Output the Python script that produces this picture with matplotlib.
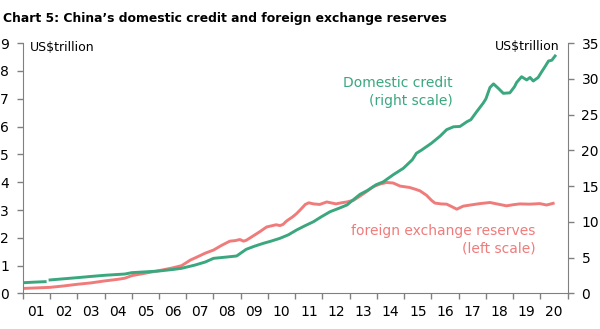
import numpy as np
import matplotlib
matplotlib.use("Agg")
import matplotlib.pyplot as plt
from matplotlib.ticker import FixedLocator, NullFormatter

# foreign exchange reserves, US$ trillion (left scale)
fx_years = [2001.0, 2001.5, 2002.0, 2002.5, 2003.0, 2003.5, 2004.0, 2004.5, 2004.75,
            2005.0, 2005.5, 2006.0, 2006.5, 2006.83, 2007.15, 2007.33, 2007.7, 2008.0,
            2008.3, 2008.6, 2008.8, 2008.97, 2009.1, 2009.2, 2009.46, 2009.7, 2009.95,
            2010.3, 2010.44, 2010.55, 2010.69, 2010.9, 2011.05, 2011.2, 2011.37, 2011.5,
            2011.67, 2011.9, 2012.16, 2012.35, 2012.5, 2012.7, 2012.9, 2013.14, 2013.38,
            2013.6, 2013.87, 2014.1, 2014.36, 2014.6, 2014.85, 2015.2, 2015.4, 2015.58,
            2015.82, 2016.0, 2016.13, 2016.35, 2016.56, 2016.75, 2016.93, 2017.17, 2017.5,
            2017.78, 2018.15, 2018.4, 2018.76, 2019.0, 2019.25, 2019.6, 2019.98, 2020.23,
            2020.47]
fx_values = [0.18, 0.20, 0.22, 0.27, 0.33, 0.38, 0.45, 0.51, 0.55,
             0.64, 0.73, 0.82, 0.92, 1.00, 1.20, 1.28, 1.45, 1.56,
             1.73, 1.88, 1.90, 1.94, 1.88, 1.91, 2.07, 2.22, 2.39,
             2.47, 2.44, 2.48, 2.61, 2.75, 2.87, 3.02, 3.20, 3.26,
             3.22, 3.20, 3.29, 3.25, 3.22, 3.26, 3.29, 3.35, 3.50,
             3.65, 3.84, 3.93, 3.99, 3.97, 3.86, 3.81, 3.75, 3.69,
             3.53, 3.35, 3.25, 3.22, 3.21, 3.12, 3.03, 3.14, 3.19,
             3.23, 3.27, 3.22, 3.15, 3.19, 3.22, 3.21, 3.23, 3.18,
             3.24]

# domestic credit, US$ trillion (right scale); nan = gap in the source line
dc_years = [2001.0, 2001.4, 2001.82, 2001.9, 2002.0, 2002.5, 2003.0, 2003.5, 2004.0,
            2004.5, 2004.75, 2005.0, 2005.5, 2006.0, 2006.5, 2006.83, 2007.33, 2007.7,
            2008.0, 2008.5, 2008.85, 2009.2, 2009.5, 2009.83, 2010.1, 2010.44, 2010.75,
            2011.05, 2011.35, 2011.67, 2011.95, 2012.28, 2012.6, 2012.9, 2013.1, 2013.38,
            2013.65, 2013.97, 2014.23, 2014.6, 2014.97, 2015.3, 2015.45, 2015.64, 2016.0,
            2016.32, 2016.56, 2016.81, 2017.05, 2017.3, 2017.45, 2017.66, 2017.9, 2018.0,
            2018.15, 2018.28, 2018.45, 2018.64, 2018.88, 2019.05, 2019.13, 2019.31, 2019.5,
            2019.62, 2019.74, 2019.92, 2020.05, 2020.17, 2020.3, 2020.42, 2020.54]
dc_values = [1.50, 1.58, 1.65, np.nan, 1.89, 2.05, 2.21, 2.38, 2.54,
             2.66, 2.72, 2.91, 3.02, 3.14, 3.35, 3.52, 3.98, 4.40,
             4.91, 5.10, 5.24, 6.17, 6.60, 7.01, 7.30, 7.71, 8.20,
             8.87, 9.45, 10.03, 10.70, 11.43, 11.90, 12.37, 13.00, 13.86,
             14.40, 15.20, 15.60, 16.60, 17.50, 18.70, 19.60, 20.05, 21.00,
             22.00, 22.90, 23.30, 23.35, 24.00, 24.30, 25.40, 26.60, 27.20,
             28.80, 29.30, 28.70, 27.98, 28.05, 28.90, 29.50, 30.30, 29.85,
             30.20, 29.70, 30.20, 31.00, 31.70, 32.50, 32.60, 33.20]

year_labels = ["01", "02", "03", "04", "05", "06", "07", "08", "09", "10",
               "11", "12", "13", "14", "15", "16", "17", "18", "19", "20"]

green = "#3aa77f"
red = "#f07b7b"
grey = "#808080"

fig = plt.figure(figsize=(6.0, 3.29), dpi=100)
ax = fig.add_axes([0.038, 0.108, 0.908, 0.761])
ax2 = ax.twinx()

ax.plot(fx_years, fx_values, color=red, lw=2.1, zorder=2)
ax2.plot(dc_years, dc_values, color=green, lw=2.1, zorder=3)

ax.set_xlim(2001, 2021)
ax.set_ylim(0, 9)
ax2.set_ylim(0, 35)
ax.set_yticks(range(0, 10))
ax2.set_yticks(range(0, 36, 5))

ax.xaxis.set_major_locator(FixedLocator(range(2001, 2022)))
ax.xaxis.set_major_formatter(NullFormatter())
ax.xaxis.set_minor_locator(FixedLocator([y + 0.5 for y in range(2001, 2021)]))
ax.set_xticklabels(year_labels, minor=True)
ax.tick_params(axis="x", which="minor", length=0, pad=8, labelsize=10)
ax.tick_params(axis="x", which="major", length=4, width=1, color=grey)
ax.tick_params(axis="y", length=4, width=1, color=grey, labelsize=10, pad=6)
ax2.tick_params(axis="y", length=4, width=1, color=grey, labelsize=10, pad=6)

for a in (ax, ax2):
    for side in ("left", "right", "bottom"):
        a.spines[side].set_color(grey)
    a.spines["top"].set_visible(False)
ax.spines["right"].set_visible(False)
ax2.spines["left"].set_visible(False)
ax2.spines["bottom"].set_visible(False)

fig.text(0.005, 0.945, "Chart 5: China\u2019s domestic credit and foreign exchange reserves",
         fontsize=8.9, fontweight="bold", va="center", ha="left")
fig.text(0.05, 0.855, "US$trillion", fontsize=9, va="center", ha="left")
fig.text(0.932, 0.86, "US$trillion", fontsize=9, va="center", ha="right")
fig.text(0.755, 0.72, "Domestic credit\n(right scale)", color=green, fontsize=10,
         va="center", ha="right", linespacing=1.3)
fig.text(0.892, 0.272, "foreign exchange reserves\n(left scale)", color=red, fontsize=10,
         va="center", ha="right", linespacing=1.3)

fig.savefig("out.png", dpi=100)
